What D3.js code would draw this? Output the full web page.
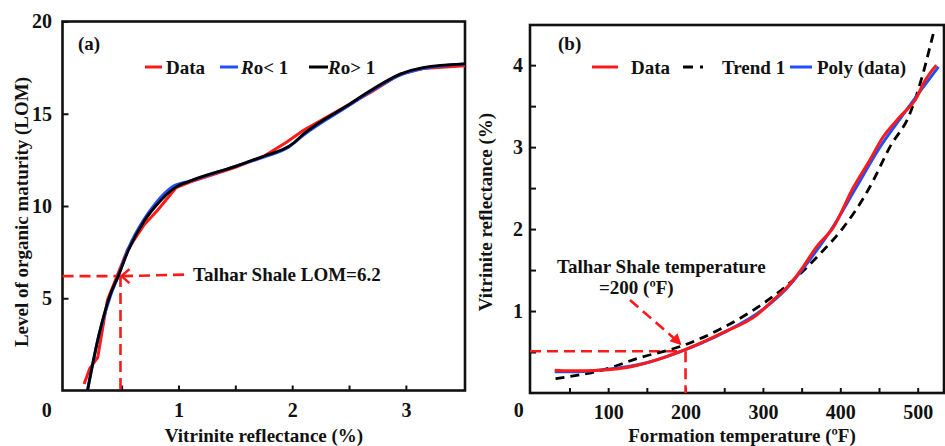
<!DOCTYPE html>
<html>
<head>
<meta charset="UTF-8">
<script src="https://cdn.jsdelivr.net/npm/d3@7"></script>
</head>
<body style="margin:0">
<svg id="chart" width="945" height="446" font-family="Liberation Serif" font-weight="bold"></svg>
<script>
// ---- panel (a): LOM vs vitrinite reflectance ----
const aDataRo  = [0.17, 0.22, 0.29, 0.375, 0.46, 0.55, 0.70, 0.82, 0.98, 1.1, 1.5, 1.75, 1.95, 2.1, 2.5, 2.7, 2.95, 3.15, 3.52];
const aDataLom = [0.35, 1.2, 1.8, 4.9, 6.2, 7.6, 9.0, 9.8, 11.0, 11.3, 12.1, 12.7, 13.45, 14.1, 15.5, 16.2, 17.15, 17.45, 17.6];
const aLowRo   = [0.2, 0.3, 0.4, 0.47, 0.56, 0.7, 0.8, 0.95, 1.1, 1.5, 1.75, 1.97, 2.1, 2.5, 2.7, 2.95, 3.15, 3.52];
const aLowLom  = [0.0, 3.0, 5.1, 6.2, 7.7, 9.3, 10.15, 11.05, 11.35, 12.15, 12.65, 13.2, 13.85, 15.45, 16.25, 17.1, 17.45, 17.7];
const aHighRo  = [0.2, 0.3, 0.4, 0.47, 0.56, 0.7, 0.8, 0.97, 1.1, 1.5, 1.75, 2.0, 2.1, 2.5, 2.7, 2.95, 3.15, 3.52];
const aHighLom = [0.0, 3.0, 5.2, 6.2, 7.6, 9.2, 10.0, 11.0, 11.35, 12.15, 12.7, 13.35, 13.9, 15.5, 16.3, 17.15, 17.5, 17.7];
const aLegend  = ["Data", "Ro< 1", "Ro> 1"];
const aLomTarget = 6.2, aRoTarget = 0.49;

// ---- panel (b): vitrinite reflectance vs temperature ----
const bDataT  = [31, 50, 100, 124, 154, 197, 249, 292, 313, 335, 352, 369, 391, 417, 438, 455, 477, 499, 507, 524];
const bDataRo = [0.277, 0.27, 0.285, 0.31, 0.38, 0.52, 0.74, 0.95, 1.13, 1.33, 1.54, 1.78, 2.02, 2.51, 2.84, 3.12, 3.37, 3.61, 3.77, 4.0];
const bPolyT  = [31, 60, 100, 150, 200, 250, 300, 330, 360, 390, 420, 450, 480, 500, 527];
const bPolyRo = [0.26, 0.26, 0.29, 0.37, 0.53, 0.74, 1.02, 1.27, 1.62, 2.02, 2.5, 2.98, 3.38, 3.64, 3.98];
const bTrendT  = [32, 100, 137, 197, 249, 309, 343, 374, 404, 438, 464, 490, 503, 520];
const bTrendRo = [0.175, 0.3, 0.42, 0.58, 0.80, 1.15, 1.41, 1.70, 2.02, 2.51, 3.0, 3.41, 3.77, 4.38];
const bLegend  = ["Data", "Trend 1", "Poly (data)"];
const bTempTarget = 200, bRoTarget = 0.51;

const red = "#ff1a1a", blue = "#1f4fff", black = "#000";
const FONT = '"Liberation Serif"';
const svg = d3.select("#chart");

const xa = d3.scaleLinear().domain([-0.02, 3.52]).range([62.5, 465]);
const ya = d3.scaleLinear().domain([0, 20]).range([390.5, 21.5]);
const xb = d3.scaleLinear().domain([-1, 534]).range([530, 944]);
const yb = d3.scaleLinear().domain([0, 4.49]).range([393, 25]);

const zip = (xs, ys) => xs.map((x, i) => [x, ys[i]]);

// every label goes through here so it gets the serif face
function label(parent, size) {
  return parent.append("text")
    .style("font-family", FONT).style("font-weight", "bold")
    .style("font-size", size + "px").attr("fill", "#111");
}

function frame(x, y, xTicks, yTicks, xLab, yLab, yPad) {
  const g = svg.append("g");
  g.append("g").attr("transform", `translate(0,${y.range()[0]})`)
    .call(d3.axisBottom(x).tickValues(xTicks).tickSizeInner(-5).tickSizeOuter(0).tickPadding(12)
      .tickFormat(d => xLab.includes(d) ? d : ""));
  g.append("g").attr("transform", `translate(${x.range()[0]},0)`)
    .call(d3.axisLeft(y).tickValues(yTicks).tickSizeInner(-6).tickSizeOuter(0).tickPadding(yPad)
      .tickFormat(d => yLab.includes(d) ? d : ""));
  g.selectAll("g").attr("font-family", null).attr("font-size", null);
  g.selectAll(".domain").remove();
  g.selectAll(".tick line").attr("stroke", "#111").attr("stroke-width", 2);
  g.selectAll(".tick text")
    .style("font-family", FONT).style("font-weight", "bold").style("font-size", "20px").attr("fill", "#111");
  g.append("rect")
    .attr("x", x.range()[0]).attr("y", y.range()[1])
    .attr("width", x.range()[1] - x.range()[0]).attr("height", y.range()[0] - y.range()[1])
    .attr("fill", "none").attr("stroke", "#111").attr("stroke-width", 2.6);
  label(g, 20).attr("x", x(0) - (x === xa ? 18 : 12)).attr("y", 417)
    .attr("text-anchor", "middle").text("0");
}

frame(xa, ya, [0.5, 1, 1.5, 2, 2.5, 3], [5, 10, 15, 20], [1, 2, 3], [5, 10, 15, 20], 10.5);
frame(xb, yb, d3.range(50, 501, 50), d3.range(0.5, 4.01, 0.5), [100, 200, 300, 400, 500], [1, 2, 3, 4], 7);

// axis titles
function title(x, y, rot, txt) {
  label(svg, 19).attr("transform", `translate(${x},${y}) rotate(${rot})`)
    .attr("text-anchor", "middle").text(txt);
}
title(264, 442, 0, "Vitrinite reflectance (%)");
title(28, 212, -90, "Level of organic maturity (LOM)");
title(742, 442, 0, "Formation temperature (ºF)");
title(492, 212, -90, "Vitrinite reflectance (%)");

label(svg, 19).attr("x", 78).attr("y", 50).text("(a)");
label(svg, 19).attr("x", 558).attr("y", 50).text("(b)");

// clip paths
const defs = svg.append("defs");
defs.append("clipPath").attr("id", "clipA").append("rect")
  .attr("x", 62.5).attr("y", 21.5).attr("width", 402.5).attr("height", 369);
defs.append("clipPath").attr("id", "clipB").append("rect")
  .attr("x", 530).attr("y", 25).attr("width", 414).attr("height", 368);

// annotations (a)
const ann = svg.append("g").attr("stroke", red).attr("stroke-width", 2.6).attr("fill", "none");
ann.append("line").attr("x1", xa.range()[0]).attr("x2", xa(aRoTarget))
  .attr("y1", ya(aLomTarget)).attr("y2", ya(aLomTarget)).attr("stroke-dasharray", "11,6");
ann.append("line").attr("x1", xa(aRoTarget)).attr("x2", xa(aRoTarget))
  .attr("y1", ya(aLomTarget)).attr("y2", ya(0)).attr("stroke-dasharray", "11,6");
ann.append("line").attr("x1", 184).attr("y1", ya(aLomTarget) - 1.5)
  .attr("x2", xa(aRoTarget) + 2).attr("y2", ya(aLomTarget)).attr("stroke-dasharray", "11,6");
ann.append("path").attr("d", `M${xa(aRoTarget) + 9},${ya(aLomTarget) - 7} L${xa(aRoTarget) + 1},${ya(aLomTarget)} L${xa(aRoTarget) + 9},${ya(aLomTarget) + 7}`);
label(svg, 19).attr("x", 193).attr("y", 281).text("Talhar Shale LOM=6.2");

// annotations (b)
ann.append("line").attr("x1", xb.range()[0]).attr("x2", xb(bTempTarget) - 3)
  .attr("y1", yb(bRoTarget)).attr("y2", yb(bRoTarget)).attr("stroke-dasharray", "11,6");
ann.append("line").attr("x1", xb(bTempTarget)).attr("x2", xb(bTempTarget))
  .attr("y1", yb(bRoTarget)).attr("y2", yb(0)).attr("stroke-dasharray", "11,6");
const arrEnd = [xb(bTempTarget) - 4, yb(bRoTarget) - 6];
ann.append("line").attr("x1", 630).attr("y1", 300).attr("x2", arrEnd[0] - 3).attr("y2", arrEnd[1] - 3)
  .attr("stroke-dasharray", "11,6");
svg.append("path").attr("fill", red)
  .attr("d", `M${arrEnd[0]},${arrEnd[1]} L${arrEnd[0] - 12},${arrEnd[1] - 4} L${arrEnd[0] - 4},${arrEnd[1] - 12} Z`);
label(svg, 19).attr("x", 557).attr("y", 273).text("Talhar Shale temperature");
label(svg, 19).attr("x", 599).attr("y", 294).text("=200 (ºF)");

// curves (a)
const lineA = d3.line().x(d => xa(d[0])).y(d => ya(d[1]));
const ga = svg.append("g").attr("clip-path", "url(#clipA)").attr("fill", "none");
ga.append("path").datum(zip(aDataRo, aDataLom)).attr("d", lineA.curve(d3.curveLinear))
  .attr("stroke", red).attr("stroke-width", 3);
ga.append("path").datum(zip(aLowRo, aLowLom)).attr("d", lineA.curve(d3.curveMonotoneX))
  .attr("stroke", blue).attr("stroke-width", 3);
ga.append("path").datum(zip(aHighRo, aHighLom)).attr("d", lineA.curve(d3.curveMonotoneX))
  .attr("stroke", black).attr("stroke-width", 2.8);

// curves (b)
const lineB = d3.line().x(d => xb(d[0])).y(d => yb(d[1])).curve(d3.curveMonotoneX);
const gb = svg.append("g").attr("clip-path", "url(#clipB)").attr("fill", "none");
gb.append("path").datum(zip(bTrendT, bTrendRo)).attr("d", lineB)
  .attr("stroke", black).attr("stroke-width", 2.8).attr("stroke-dasharray", "9,6");
gb.append("path").datum(zip(bPolyT, bPolyRo)).attr("d", lineB)
  .attr("stroke", blue).attr("stroke-width", 3);
gb.append("path").datum(zip(bDataT, bDataRo)).attr("d", lineB)
  .attr("stroke", red).attr("stroke-width", 3);

// legends
function legendItem(x1, x2, y, color, dash, tx, txt, italicR) {
  const ln = svg.append("line").attr("x1", x1).attr("x2", x2).attr("y1", y).attr("y2", y)
    .attr("stroke", color).attr("stroke-width", 3);
  if (dash) ln.attr("stroke-dasharray", dash);
  const t = label(svg, 19).attr("x", tx).attr("y", y + 7);
  if (italicR) {
    t.append("tspan").style("font-style", "italic").text(txt[0]);
    t.append("tspan").text(txt.slice(1));
  } else t.text(txt);
}
legendItem(145, 162, 67, red, null, 166, aLegend[0], false);
legendItem(220, 238, 67, blue, null, 241, aLegend[1], true);
legendItem(309, 328, 67, black, null, 328, aLegend[2], true);
legendItem(592, 618, 67, red, null, 631, bLegend[0], false);
legendItem(683, 708, 67, black, "10,7,3,20", 722, bLegend[1], false);
legendItem(790, 812, 67, blue, null, 817, bLegend[2], false);
</script>
</body>
</html>
